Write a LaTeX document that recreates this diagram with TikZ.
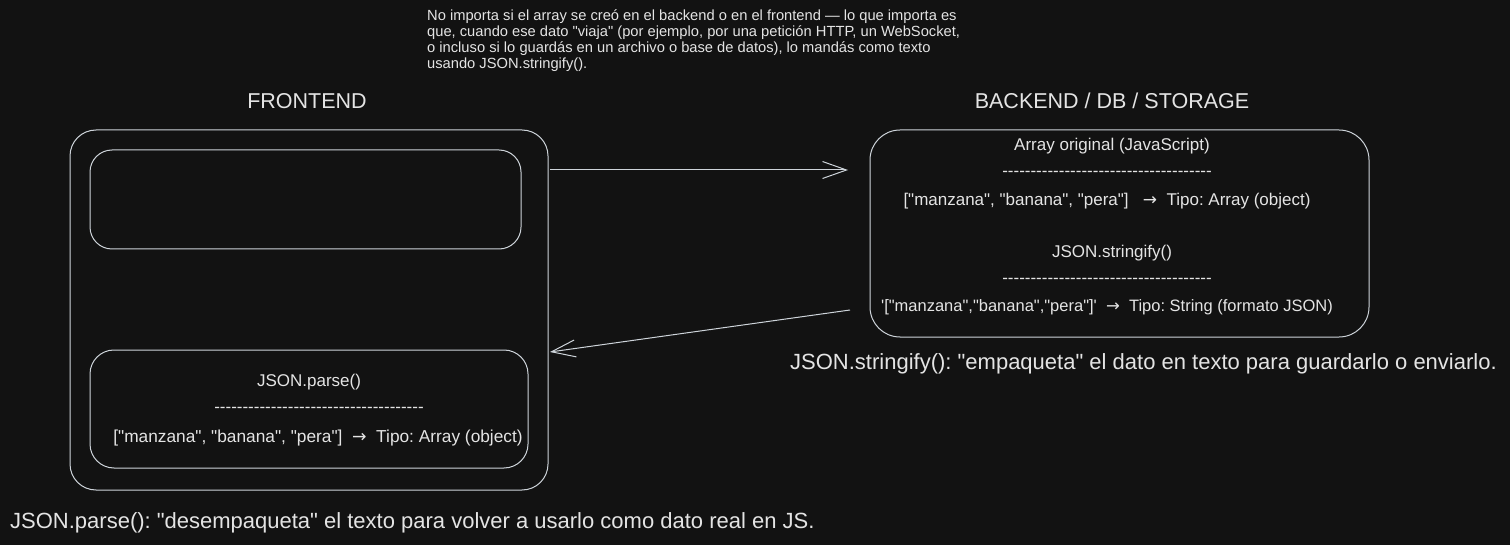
\documentclass[tikz,border=0pt]{standalone}
\usepackage{fontspec}
\setmainfont{Liberation Sans}[Ligatures=TeXOff]
\newfontfamily\arrowfont{DejaVu Sans}
\usetikzlibrary{arrows.meta}
\frenchspacing
\definecolor{bg}{HTML}{121212}
\definecolor{ink}{HTML}{CED4DA}
\definecolor{txt}{HTML}{E4E4E4}
\newcommand{\ar}{{\arrowfont\char"2192}}
\newcommand{\dashline}{-------------------------------------}
\tikzset{
  box/.style={draw=ink, line width=1pt, rounded corners=#1, inner sep=0pt},
  box/.default=22pt,
  lbl/.style={text=txt, inner sep=0pt, anchor=base},
  head/.style={lbl, font=\fontsize{21.5}{24}\selectfont},
  body/.style={lbl, font=\fontsize{17}{19}\selectfont},
  note/.style={lbl, font=\fontsize{22}{24}\selectfont, anchor=base west},
  conn/.style={draw=ink, line width=1pt, -{Straight Barb[length=24pt,width=17pt,line width=1pt]}}
}
\begin{document}
\begin{tikzpicture}[x=1pt,y=-1pt]
\fill[bg] (0,0) rectangle (1510,545);
\useasboundingbox (0,0) rectangle (1510,545);

% paragraph
\node[lbl, anchor=north west, align=left, font=\fontsize{14.7}{16.3}\selectfont] (para) at (427,9)
 {No importa si el array se creó en el backend o en el frontend — lo que importa es\\
  que, cuando ese dato "viaja" (por ejemplo, por una petición HTTP, un WebSocket,\\
  o incluso si lo guardás en un archivo o base de datos), lo mandás como texto\\
  usando JSON.stringify().};

% headers
\node[head] (hfront) at (307,109) {FRONTEND};
\node[head] (hback) at (1112,109) {BACKEND / DB / STORAGE};

% frontend boxes
\node[box=26pt, minimum width=478pt, minimum height=360pt] (front) at (309,310) {};
\node[box=22pt, minimum width=431pt, minimum height=99pt] (ftop) at (305.5,199.5) {};
\node[box=24pt, minimum width=438pt, minimum height=118pt] (fbot) at (309,409) {};

% backend box
\node[box=30pt, minimum width=499pt, minimum height=207pt] (back) at (1119.5,233.5) {};

% backend texts
\node[body] (t1) at (1112,151) {Array original (JavaScript)};
\node[body] (t2) at (1107,177) {\dashline};
\node[body] (t3) at (1107,206) {["manzana", "banana", "pera"]\ \ \ \ar\ \ Tipo: Array (object)};
\node[body] (t4) at (1112,258) {JSON.stringify()};
\node[body] (t5) at (1107,284) {\dashline};
\node[body, font=\fontsize{16.5}{19}\selectfont] (t6) at (1107,312) {'["manzana","banana","pera"]'\ \ \ar\ \ Tipo: String (formato JSON)};

% frontend bottom texts
\node[body] (p1) at (309,386) {JSON.parse()};
\node[body] (p2) at (319,412) {\dashline};
\node[body, font=\fontsize{17.3}{19}\selectfont] (p3) at (318,442) {["manzana", "banana", "pera"]\ \ \ar\ \ Tipo: Array (object)};

% notes
\node[note] (n1) at (790,369) {JSON.stringify(): "empaqueta" el dato en texto para guardarlo o enviarlo.};
\node[note] (n2) at (10,528) {JSON.parse(): "desempaqueta" el texto para volver a usarlo como dato real en JS.};

% connectors
\coordinate (a1s) at (550,170);
\coordinate (a1e) at (848,170);
\coordinate (a2s) at (850,310);
\coordinate (a2e) at (550,352);
\draw[conn] (a1s) -- (a1e);
\draw[conn] (a2s) -- (a2e);
\end{tikzpicture}
\end{document}
